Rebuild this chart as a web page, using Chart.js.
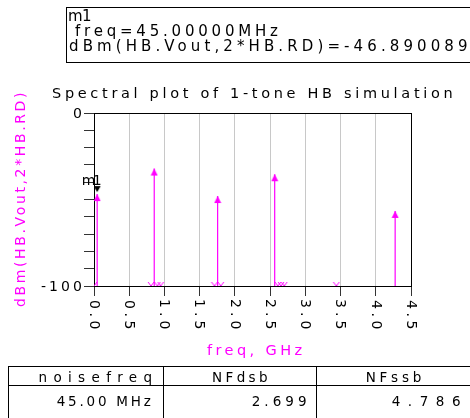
<!DOCTYPE html>
<html><head><meta charset="utf-8">
<script src="https://cdn.jsdelivr.net/npm/chart.js@4.4.1/dist/chart.umd.min.js"></script>
<style>
html,body{margin:0;padding:0;background:#fff;}
#wrap{position:relative;width:470px;height:418px;overflow:hidden;background:#fff;}
#c{position:absolute;left:0;top:0;}
.t{position:absolute;white-space:pre;font-family:"DejaVu Sans",sans-serif;line-height:1;color:#000;}
.ln{position:absolute;background:#000;}
</style></head><body>
<div id="wrap"><canvas id="c" width="470" height="418"></canvas></div>
<script>
// ---------------- data ----------------
const freqGHz = [0.045, 0.855, 1.755, 2.565, 4.275];
const levelDbm = [-46.89, -32.1, -48.0, -35.4, -56.6];
// tones below the -100 dBm axis floor (shown as small "v" marks on the floor)
const belowRangeFreqGHz = [0.0, 0.81, 0.9, 0.945, 1.71, 1.8, 2.61, 2.655, 2.7, 3.44];
const belowRangeShownAt = -100;
const markerName = 'm1';
const markerFreqGHz = 0.045;
const markerDbm = -46.890089;
const xTickLabels = ['0.0','0.5','1.0','1.5','2.0','2.5','3.0','3.5','4.0','4.5'];
const yLabelValues = [0, -100];
const yLabelTexts = ['0', '-100'];
const markerLines = ['m1', 'freq=45.00000MHz', 'dBm(HB.Vout,2*HB.RD)=-46.890089'];
const tableHeaders = ['noisefreq', 'NFdsb', 'NFssb'];
const tableValues = ['45.00 MHz', '2.699', '4.786'];
const titleText = 'Spectral plot of 1-tone HB simulation';
const yTitleText = 'dBm(HB.Vout,2*HB.RD)';
const xTitleText = 'freq, GHz';

// ---------------- helpers ----------------
const FF = '"DejaVu Sans", sans-serif';
const MAG = '#ff00ff';
const mctx = document.createElement('canvas').getContext('2d');
function inkInfo(text, size) {
  mctx.font = size + 'px ' + FF;
  try { mctx.letterSpacing = '0px'; } catch (e) {}
  const m = mctx.measureText(text);
  return { ink: m.actualBoundingBoxLeft + m.actualBoundingBoxRight, abl: m.actualBoundingBoxLeft, n: Array.from(text).length };
}
function fit(text, size, x0, x1) {
  const i = inkInfo(text, size);
  const ls = i.n > 1 ? (x1 - x0 - i.ink) / (i.n - 1) : 0;
  return { ls: ls, start: x0 + i.abl };
}
function drawFit(ctx, text, size, x0, x1, base, color, angle, pivotX, pivotY) {
  const f = fit(text, size, x0, x1);
  ctx.save();
  ctx.font = size + 'px ' + FF;
  try { ctx.letterSpacing = f.ls + 'px'; } catch (e) {}
  ctx.fillStyle = color;
  ctx.textAlign = 'left';
  ctx.textBaseline = 'alphabetic';
  if (angle) {
    ctx.translate(pivotX, pivotY);
    ctx.rotate(angle);
    ctx.fillText(text, f.start - x0, 0);
  } else {
    ctx.fillText(text, f.start, base);
  }
  ctx.restore();
}
const wrap = document.getElementById('wrap');
function addText(text, size, x0, x1, base, color) {
  const f = fit(text, size, x0, x1);
  const d = document.createElement('div');
  d.className = 't';
  d.textContent = text;
  d.style.fontSize = size + 'px';
  d.style.letterSpacing = f.ls + 'px';
  d.style.left = f.start + 'px';
  d.style.top = (base - 0.846 * size) + 'px';
  if (color) d.style.color = color;
  wrap.appendChild(d);
}
function addLine(l, t, w, h) {
  const d = document.createElement('div');
  d.className = 'ln';
  d.style.left = l + 'px'; d.style.top = t + 'px';
  d.style.width = w + 'px'; d.style.height = h + 'px';
  wrap.appendChild(d);
}
function makeImg(w, h, fn) {
  const c = document.createElement('canvas');
  c.width = w; c.height = h;
  fn(c.getContext('2d'));
  return c;
}
const arrowImg = makeImg(8, 16, g => {
  g.fillStyle = MAG; g.beginPath();
  g.moveTo(4, 8); g.lineTo(7.5, 15); g.lineTo(0.5, 15); g.closePath(); g.fill();
});
const floorImg = makeImg(8, 12, g => {
  g.strokeStyle = MAG; g.lineWidth = 1; g.beginPath();
  g.moveTo(1, 2); g.lineTo(4, 6); g.lineTo(7, 2); g.stroke();
});
const markerImg = makeImg(8, 20, g => {
  g.fillStyle = '#000'; g.beginPath();
  g.moveTo(0.5, 2); g.lineTo(7.5, 2); g.lineTo(4, 8); g.closePath(); g.fill();
});

// ---------------- datasets ----------------
const stemPts = [];
freqGHz.forEach((f, i) => {
  stemPts.push({ x: f, y: -100 });
  stemPts.push({ x: f, y: levelDbm[i], top: true });
  stemPts.push({ x: f, y: null });
});
const floorPts = belowRangeFreqGHz.map(f => ({ x: f, y: belowRangeShownAt }));
const markerPts = [{ x: markerFreqGHz, y: markerDbm }];

// ---------------- text / frame plugin ----------------
const deco = {
  id: 'deco',
  afterDatasetsDraw(chart) {
    const ctx = chart.ctx, a = chart.chartArea;
    ctx.save();
    ctx.strokeStyle = '#000'; ctx.lineWidth = 1;
    ctx.beginPath();
    ctx.moveTo(Math.round(a.left), Math.round(a.top) + 0.5);
    ctx.lineTo(Math.round(a.right) + 1, Math.round(a.top) + 0.5);
    ctx.moveTo(Math.round(a.right) + 0.5, Math.round(a.top));
    ctx.lineTo(Math.round(a.right) + 0.5, Math.round(a.bottom) + 1);
    ctx.stroke();
    ctx.restore();
  },
  afterDraw(chart) {
    const ctx = chart.ctx, xs = chart.scales.x, ys = chart.scales.y;
    drawFit(ctx, titleText, 14.5, 52, 451.5, 97.5, '#000');
    yLabelValues.forEach((v, i) => {
      const py = ys.getPixelForValue(v);
      const t = yLabelTexts[i];
      const inf = inkInfo(t, 14);
      const w = t.length > 1 ? 40 : inf.ink;
      drawFit(ctx, t, 14, 81 - w, 81, py + 5, '#000');
    });
    xs.ticks.forEach((tk, i) => {
      const px = xs.getPixelForValue(tk.value);
      const t = xTickLabels[i];
      if (t === undefined) return;
      drawFit(ctx, t, 14, 0, 28.5, 0, '#000', Math.PI / 2, px - 4.2, 300);
    });
    drawFit(ctx, yTitleText, 14, 0, 214, 0, MAG, -Math.PI / 2, 24.5, 307);
    drawFit(ctx, xTitleText, 14.5, 207, 301.5, 355, MAG);
    const mx = xs.getPixelForValue(markerFreqGHz);
    drawFit(ctx, markerName, 14, mx - 14.5, mx + 3.5, 184.5, '#000');
  }
};

new Chart(document.getElementById('c'), {
  type: 'scatter',
  data: {
    datasets: [
      { label: 'marker', data: markerPts, pointStyle: markerImg, pointRadius: 4, showLine: false },
      { label: 'floor', data: floorPts, pointStyle: floorImg, pointRadius: 4, showLine: false },
      { label: 'dBm(HB.Vout,2*HB.RD)', data: stemPts, showLine: true, spanGaps: false,
        borderColor: MAG, borderWidth: 1.2, pointStyle: arrowImg,
        pointRadius: c => (c.raw && c.raw.top) ? 4 : 0, pointHoverRadius: 0 }
    ]
  },
  options: {
    responsive: false, animation: false, events: [],
    layout: { padding: { left: 0, top: 113, right: 59, bottom: 0 } },
    plugins: { legend: { display: false }, tooltip: { enabled: false }, title: { display: false } },
    scales: {
      x: {
        type: 'linear', min: 0, max: 4.5,
        afterFit: s => { s.height = 132; },
        ticks: { display: false, stepSize: 0.5 },
        grid: { color: '#c8c8c8', lineWidth: 1, tickColor: '#333', tickLength: 10, drawTicks: true },
        border: { display: true, color: '#000', width: 1 }
      },
      y: {
        type: 'linear', min: -100, max: 0,
        afterFit: s => { s.width = 94; },
        ticks: { display: false, stepSize: 10 },
        grid: { drawOnChartArea: false, tickColor: '#333', tickLength: 10, drawTicks: true },
        border: { display: true, color: '#000', width: 1 }
      }
    }
  },
  plugins: [deco]
});

// ---------------- marker readout box ----------------
addLine(66, 7, 410, 1);
addLine(66, 62, 410, 1);
addLine(66, 7, 1, 56);
addText(markerLines[0], 15, 69, 91, 22);
addText(markerLines[1], 15, 75, 278, 37);
addText(markerLines[2], 15, 69, 467, 51.5);

// ---------------- noise table ----------------
addLine(8, 366, 462, 1);
addLine(8, 385, 462, 1);
addLine(8, 366, 1, 52);
addLine(163, 366, 1, 52);
addLine(316, 366, 1, 52);
addText(tableHeaders[0], 13.5, 39.5, 151.5, 382);
addText(tableHeaders[1], 13.5, 213, 267, 382);
addText(tableHeaders[2], 13.5, 366.7, 420.7, 382);
addText(tableValues[0], 13.5, 56.7, 150.7, 406);
addText(tableValues[1], 13.5, 251.7, 306, 406);
addText(tableValues[2], 13.5, 391.7, 460, 406);
</script>
</body></html>
